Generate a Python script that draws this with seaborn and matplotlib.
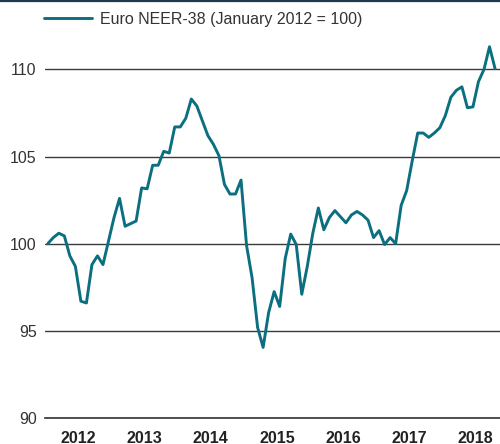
import matplotlib
matplotlib.use("Agg")
import matplotlib.pyplot as plt
from matplotlib.lines import Line2D
import seaborn as sns
import pandas as pd
import numpy as np

# ---- data (monthly, Jan 2012 = 100) ----
years = ["2012", "2013", "2014", "2015", "2016", "2017", "2018"]
v2012 = [100.0, 100.35, 100.6, 100.45, 99.3, 98.7, 96.7, 96.6, 98.8, 99.3, 98.8, 100.15]
v2013 = [101.5, 102.6, 101.0, 101.15, 101.3, 103.2, 103.15, 104.5, 104.5, 105.3, 105.2, 106.7]
v2014 = [106.7, 107.2, 108.3, 107.9, 107.05, 106.2, 105.7, 105.05, 103.4, 102.85, 102.85, 103.65]
v2015 = [99.9, 98.05, 95.2, 94.05, 96.05, 97.25, 96.4, 99.15, 100.55, 99.95, 97.1, 98.7]
v2016 = [100.6, 102.05, 100.8, 101.5, 101.9, 101.55, 101.2, 101.65, 101.85, 101.65, 101.35, 100.35]
v2017 = [100.75, 99.95, 100.35, 100.0, 102.2, 103.05, 104.75, 106.35, 106.35, 106.1, 106.35, 106.65]
v2018 = [107.35, 108.4, 108.8, 109.0, 107.8, 107.85, 109.3, 110.0, 111.3, 110.05]
series_label = "Euro NEER-38 (January 2012 = 100)"
y_ticks = [90, 95, 100, 105, 110]

values = v2012 + v2013 + v2014 + v2015 + v2016 + v2017 + v2018
df = pd.DataFrame({"month": np.arange(len(values)), "value": values})

sns.set_theme(style="white")
plt.rcParams["font.family"] = ["Liberation Sans", "DejaVu Sans"]

fig = plt.figure(figsize=(5.0, 4.44), dpi=100)
ax = fig.add_axes([45 / 500, 1 - 418 / 444, 455 / 500, 373 / 444])

line_color = "#0b6f80"
lw = 2.1
sns.lineplot(data=df, x="month", y="value", ax=ax, color=line_color,
             linewidth=lw, legend=False)

ax.set_xlim(-0.5, 81.9)
ax.set_ylim(90, 111.4)

fs = 11.5
# y axis
ax.set_yticks(y_ticks)
ax.set_yticklabels([str(t) for t in y_ticks])
ax.yaxis.grid(True, color="#3a3a3a", linewidth=1.0)
ax.tick_params(axis="y", length=0, pad=6, labelsize=fs, labelcolor="#333333")

# x axis: year boundaries as major ticks, year labels at mid-year
ax.set_xticks([12 * k - 0.5 for k in range(len(years))])
ax.set_xticklabels([""] * len(years))
ax.set_xticks([12 * k + 5.5 for k in range(len(years))], minor=True)
ax.set_xticklabels(years, minor=True, fontweight="bold")
ax.tick_params(axis="x", which="major", direction="in", length=5.5, width=1.0,
               color="#333333")
ax.tick_params(axis="x", which="minor", length=0, pad=9, labelsize=fs,
               labelcolor="#222222")
ax.set_xlabel("")
ax.set_ylabel("")

for s in ["left", "top", "right"]:
    ax.spines[s].set_visible(False)
ax.spines["bottom"].set_color("#333333")
ax.spines["bottom"].set_linewidth(1.2)

# legend
handle = Line2D([0], [0], color=line_color, linewidth=lw)
fig.legend([handle], [series_label], loc="upper left",
           bbox_to_anchor=(44 / 500, 1 - 12 / 444), frameon=False,
           borderpad=0, borderaxespad=0, handlelength=3.0, handletextpad=0.5,
           fontsize=fs, labelcolor="#333333")

# top rule
fig.add_artist(Line2D([0, 1], [1 - 0.8 / 444, 1 - 0.8 / 444],
                      transform=fig.transFigure, color="#1b3a52", linewidth=1.6))

fig.savefig("out.png", dpi=100)
